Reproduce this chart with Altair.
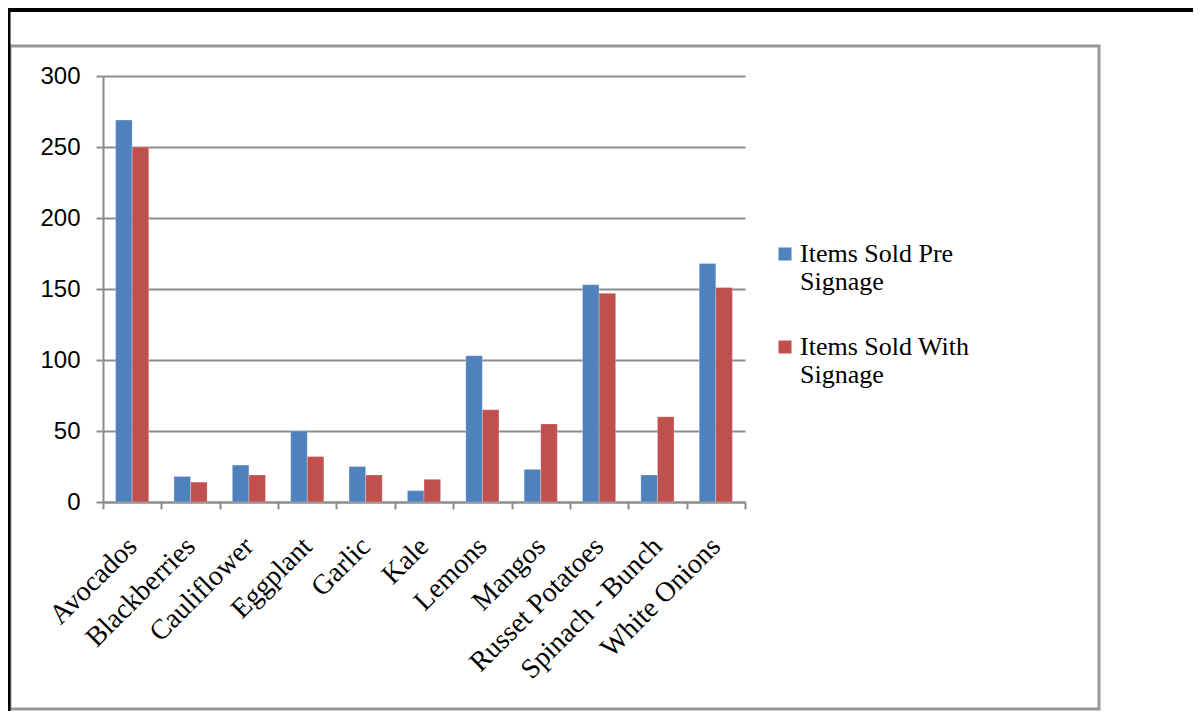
import altair as alt
import pandas as pd

categories = ["Avocados", "Blackberries", "Cauliflower", "Eggplant", "Garlic", "Kale",
              "Lemons", "Mangos", "Russet Potatoes", "Spinach - Bunch", "White Onions"]
pre_signage = [269, 18, 26, 50, 25, 8, 103, 23, 153, 19, 168]
with_signage = [250, 14, 19, 32, 19, 16, 65, 55, 147, 60, 151]
series = ["Items Sold Pre Signage", "Items Sold With Signage"]
colors = ["#4F81BD", "#C0504D"]
y_ticks = [0, 50, 100, 150, 200, 250, 300]

rows = []
for c, a, b in zip(categories, pre_signage, with_signage):
    rows.append({"cat": c, "series": series[0], "value": a})
    rows.append({"cat": c, "series": series[1], "value": b})
df = pd.DataFrame(rows)

W, H = 642, 426
GRID = "#8C8C8C"
SERIF = "Liberation Serif"
SANS = "Liberation Sans"

bars = alt.Chart(df).mark_bar(stroke="white", strokeWidth=0.5, strokeOpacity=0.5).encode(
    x=alt.X("cat:N", sort=categories, title=None,
            scale=alt.Scale(paddingInner=0, paddingOuter=0),
            axis=alt.Axis(labelAngle=-45, labelAlign="right", labelBaseline="middle",
                          labelFont=SERIF, labelFontSize=28,
                          labelColor="black", labelPadding=33, labelLimit=400,
                          tickBand="extent", tickSize=7, tickWidth=2, tickColor=GRID,
                          domainColor=GRID, domainWidth=2, grid=False)),
    xOffset=alt.XOffset("series:N", sort=series,
                        scale=alt.Scale(paddingInner=0, paddingOuter=0.76)),
    y=alt.Y("value:Q", title=None,
            scale=alt.Scale(domain=[0, 300], nice=False),
            axis=alt.Axis(values=y_ticks, labelFont=SANS, labelFontSize=24,
                          labelColor="black", labelPadding=16, tickSize=7,
                          tickWidth=2, tickColor=GRID, domainColor=GRID,
                          domainWidth=2, gridColor=GRID, gridWidth=2)),
    color=alt.Color("series:N", sort=series,
                    scale=alt.Scale(domain=series, range=colors),
                    legend=alt.Legend(title=None, orient="none", legendX=669, legendY=165,
                                      symbolType="square", symbolSize=169,
                                      symbolStrokeWidth=0, labelFont=SERIF,
                                      labelFontSize=26, labelColor="black",
                                      labelLimit=400, labelOffset=2, rowPadding=39,
                                      padding=0,
                                      labelExpr="[replace(datum.label, ' Signage', ''), 'Signage']")),
)

one = alt.Data(values=[{"k": 1}])

box = alt.Chart(one).mark_rect(fillOpacity=0, stroke="#989898", strokeWidth=3).encode(
    x=alt.value(-93), x2=alt.value(996), y=alt.value(-30), y2=alt.value(633)
)
top_line = alt.Chart(one).mark_rule(color="black", strokeWidth=4).encode(
    x=alt.value(-95), x2=alt.value(1090), y=alt.value(-66)
)
left_line = alt.Chart(one).mark_rule(color="black", strokeWidth=3).encode(
    x=alt.value(-94), y=alt.value(-68), y2=alt.value(635)
)

chart = alt.layer(box, top_line, left_line, bars).properties(
    width=W, height=H,
    autosize=alt.AutoSizeParams(type="none"),
    padding={"left": 95, "top": 68, "right": 448, "bottom": 209},
    background="white",
).configure_view(stroke=None)

chart.save("out.html", embed_options={"renderer": "svg", "actions": False})
